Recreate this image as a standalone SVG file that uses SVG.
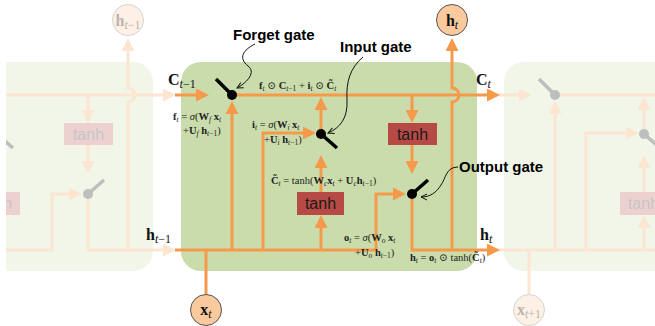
<svg xmlns="http://www.w3.org/2000/svg" xmlns:xlink="http://www.w3.org/1999/xlink" width="655" height="326" viewBox="0 0 655 326">
<defs>
<style>
.ln{fill:none;stroke:#f5994b;stroke-width:3}
.ar{marker-end:url(#arr)}
.sw{stroke:#000;stroke-width:3.5}
.dot{fill:#000}
.tb{fill:#b84a46}
.tt{font-family:"Liberation Sans",Arial,sans-serif;font-size:16px;fill:#1a1a1a;text-anchor:middle}
.nd{fill:#fac99e;stroke:#555;stroke-width:1}
.m{font-family:"Liberation Serif","DejaVu Serif",serif;font-size:10.5px;fill:#222}
.b{font-weight:bold}
.i{font-style:italic}
.s{font-size:7.5px;baseline-shift:-2px}
.big{font-family:"Liberation Serif","DejaVu Serif",serif;font-size:16px;font-weight:bold;fill:#111}
.bs{font-size:12px;font-weight:normal;baseline-shift:-3px}
.gl{font-family:"Liberation Sans",Arial,sans-serif;font-size:15px;font-weight:bold;fill:#000}
.pt{fill:none;stroke:#111;stroke-width:1;marker-end:url(#ptr)}
</style>
<marker id="arr" markerUnits="userSpaceOnUse" markerWidth="13" markerHeight="13" refX="9" refY="6.5" orient="auto"><path d="M0,0 L13,6.5 L0,13 z" fill="#f5994b"/></marker>
<marker id="ptr" markerUnits="userSpaceOnUse" markerWidth="8" markerHeight="8" refX="7" refY="4" orient="auto"><path d="M1,1 L7,4 L1,7" fill="none" stroke="#111" stroke-width="1"/></marker>
<clipPath id="clipL"><rect x="6" y="0" width="200" height="326"/></clipPath>
</defs>
<rect width="655" height="326" fill="#fff"/>

<!-- faded neighbouring cells -->
<g id="cell-prev" clip-path="url(#clipL)"><use href="#cell" transform="translate(-324 0)" opacity="0.25"/></g>
<g id="cell-next"><use href="#cell" transform="translate(323 0)" opacity="0.25"/></g>

<g id="cell">
<rect id="cell-box" x="181" y="62" width="296" height="209" rx="20" fill="#cadcab"/>
<g id="connectors" class="ln">
<path class="ar" d="M175,95H205"/>
<path class="ar" d="M232,95H496"/>
<path class="ar" d="M452,250V102A7,7 0 0 0 452,88V42"/>
<path class="ar" d="M175,250H376V194H402"/>
<path class="ar" d="M232,250V105"/>
<path class="ar" d="M263,250V133H312"/>
<path class="ar" d="M321,250V219"/>
<path class="ar" d="M321,192V159"/>
<path class="ar" d="M321,134V101"/>
<path class="ar" d="M412,95V119"/>
<path class="ar" d="M412,145V170"/>
<path class="ar" d="M412,194V250H496"/>
<path d="M206,294V250"/>
</g>
<g id="forget-gate"><line class="sw" x1="216" y1="79" x2="232" y2="95"/><circle class="dot" cx="232" cy="95" r="5"/></g>
<g id="input-gate"><line class="sw" x1="321" y1="134" x2="337" y2="148"/><circle class="dot" cx="321" cy="134" r="5"/></g>
<g id="output-gate"><line class="sw" x1="412" y1="194" x2="428" y2="180"/><circle class="dot" cx="412" cy="194" r="5"/></g>
<g id="tanh-candidate"><rect class="tb" x="297" y="192" width="47" height="23"/><text class="tt" x="320.5" y="209">tanh</text></g>
<g id="tanh-cell"><rect class="tb" x="388" y="123" width="49" height="22"/><text class="tt" x="412.5" y="139.5">tanh</text></g>
<g id="h-out"><circle class="nd" cx="452" cy="20" r="15.5"/></g>
<g id="x-in"><circle class="nd" cx="206" cy="310" r="15.5"/></g>
</g>

<!-- node labels -->
<g id="labels-circles">
<text class="big" x="452" y="26" text-anchor="middle">h<tspan class="bs i">t</tspan></text>
<text class="big" x="206" y="315" text-anchor="middle">x<tspan class="bs i">t</tspan></text>
<text class="big" x="128" y="26" text-anchor="middle" style="fill:#bdb3ad">h<tspan class="bs"><tspan class="i">t</tspan>−1</tspan></text>
<text class="big" x="529" y="315" text-anchor="middle" style="fill:#bdb3ad">x<tspan class="bs"><tspan class="i">t</tspan>+1</tspan></text>
</g>

<g id="labels-flow">
<text class="big" x="168" y="85">C<tspan class="bs"><tspan class="i">t</tspan>−1</tspan></text>
<text class="big" x="476" y="85">C<tspan class="bs i">t</tspan></text>
<text class="big" x="146" y="240">h<tspan class="bs"><tspan class="i">t</tspan>−1</tspan></text>
<text class="big" x="480" y="240">h<tspan class="bs i">t</tspan></text>
</g>

<g id="labels-math">
<text class="m" x="259" y="89"><tspan class="b">f</tspan><tspan class="s i">t</tspan> ⊙ <tspan class="b">C</tspan><tspan class="s"><tspan class="i">t</tspan>−1</tspan> + <tspan class="b">i</tspan><tspan class="s i">t</tspan> ⊙ <tspan class="b">C̃</tspan><tspan class="s i">t</tspan></text>
<text class="m" x="173" y="120"><tspan class="b">f</tspan><tspan class="s i">t</tspan> = <tspan class="i">σ</tspan>(<tspan class="b">W</tspan><tspan class="s i">f</tspan> <tspan class="b">x</tspan><tspan class="s i">t</tspan></text>
<text class="m" x="183" y="134">+<tspan class="b">U</tspan><tspan class="s i">f</tspan> <tspan class="b">h</tspan><tspan class="s"><tspan class="i">t</tspan>−1</tspan>)</text>
<text class="m" x="252" y="128"><tspan class="b">i</tspan><tspan class="s i">t</tspan> = <tspan class="i">σ</tspan>(<tspan class="b">W</tspan><tspan class="s i">i</tspan> <tspan class="b">x</tspan><tspan class="s i">t</tspan></text>
<text class="m" x="264" y="143">+<tspan class="b">U</tspan><tspan class="s i">i</tspan> <tspan class="b">h</tspan><tspan class="s"><tspan class="i">t</tspan>−1</tspan>)</text>
<text class="m" x="271" y="184"><tspan class="b">C̃</tspan><tspan class="s i">t</tspan> = tanh(<tspan class="b">W</tspan><tspan class="s i">c</tspan><tspan class="b">x</tspan><tspan class="s i">t</tspan> + <tspan class="b">U</tspan><tspan class="s i">c</tspan><tspan class="b">h</tspan><tspan class="s"><tspan class="i">t</tspan>−1</tspan>)</text>
<text class="m" x="344" y="241"><tspan class="b">o</tspan><tspan class="s i">t</tspan> = <tspan class="i">σ</tspan>(<tspan class="b">W</tspan><tspan class="s i">o</tspan> <tspan class="b">x</tspan><tspan class="s i">t</tspan></text>
<text class="m" x="355" y="256">+<tspan class="b">U</tspan><tspan class="s i">o</tspan> <tspan class="b">h</tspan><tspan class="s"><tspan class="i">t</tspan>−1</tspan>)</text>
<text class="m" x="410" y="261"><tspan class="b">h</tspan><tspan class="s i">t</tspan> = <tspan class="b">o</tspan><tspan class="s i">t</tspan> ⊙ tanh(<tspan class="b">C̃</tspan><tspan class="s i">t</tspan>)</text>
</g>

<g id="annotations">
<text class="gl" x="233" y="40">Forget gate</text>
<text class="gl" x="340" y="52">Input gate</text>
<text class="gl" x="459" y="172">Output gate</text>
<path class="pt" d="M255,44 C243,50 238,58 248,66 C256,72 248,82 237,88"/>
<path class="pt" d="M363,57 C350,68 346,82 347,100 C348,118 340,128 328,133"/>
<path class="pt" d="M458,167 C446,167 446,178 441,185 C436,193 430,197 421,197"/>
</g>
</svg>
